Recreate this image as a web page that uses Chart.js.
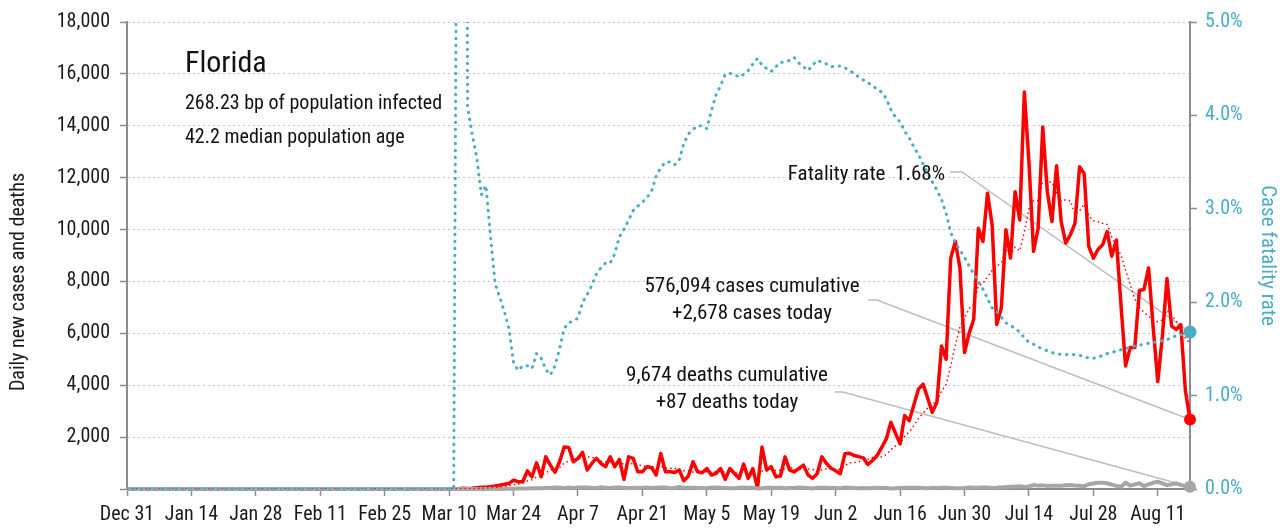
<!DOCTYPE html>
<html lang="en">
<head>
<meta charset="UTF-8">
<title>Florida: daily cases, deaths and case fatality rate</title>
<script src="https://cdn.jsdelivr.net/npm/chart.js"></script>
<style>
  body { margin: 0; background: #fff; }
  #wrap { position: relative; width: 1285px; height: 531px; }
</style>
</head>
<body>
<div id="wrap"><canvas id="chart"></canvas></div>
<script>
// x axis: one point per day starting Dec 31, labelled every two weeks
const tickLabels = ['Dec 31', 'Jan 14', 'Jan 28', 'Feb 11', 'Feb 25', 'Mar 10', 'Mar 24', 'Apr 7',
  'Apr 21', 'May 5', 'May 19', 'Jun 2', 'Jun 16', 'Jun 30', 'Jul 14', 'Jul 28', 'Aug 11'];
const caseTicks = [0, 2000, 4000, 6000, 8000, 10000, 12000, 14000, 16000, 18000];
const rateTicks = [0, 1, 2, 3, 4, 5];

// daily new cases
const cases = [
  0, 0, 0, 0, 0, 0, 0, 0, 0, 0, 0, 0, 0, 0, 0, 0, 0, 0, 0, 0,
  0, 0, 0, 0, 0, 0, 0, 0, 0, 0, 0, 0, 0, 0, 0, 0, 0, 0, 0, 0,
  0, 0, 0, 0, 0, 0, 0, 0, 0, 0, 0, 0, 0, 0, 0, 0, 0, 0, 0, 0, 0,
  0, 2, 1, 3, 2, 4, 6, 5, 8, 3,
  14, 10, 30, 20, 25, 50, 70, 65, 90, 115,
  150, 180, 215, 345, 280, 280, 700, 470, 1010, 470,
  1240, 920, 640, 1050, 1620, 1600, 1050, 1180, 1410, 730,
  985, 1180, 985, 860, 1240, 860, 1140, 370, 1240, 1180,
  665, 665, 860, 830, 540, 1370, 665, 665, 640, 730,
  320, 500, 1050, 665, 625, 790, 540, 600, 790, 370,
  790, 600, 410, 960, 410, 790, 30, 1620, 730, 860,
  470, 500, 1240, 730, 665, 790, 920, 540, 410, 600,
  1240, 985, 800, 700, 590, 1355, 1380, 1290, 1250, 1200,
  945, 1100, 1290, 1600, 1930, 2570, 2150, 1740, 2830, 2635,
  3250, 3850, 4040, 3500, 2955, 3340, 5510, 5000, 8900, 9540,
  8520, 5260, 6000, 6540, 10050, 9540, 11400, 10180, 6340, 6980,
  9990, 8900, 11460, 10370, 15300, 12600, 9160, 10050, 13950, 11460,
  10310, 12460, 10310, 9480, 9800, 10240, 12420, 12160, 9350, 8900,
  9230, 9410, 9920, 8970, 9600, 7100, 4745, 5450, 5450, 7650,
  7690, 8520, 6230, 4140, 5900, 8110, 6280, 6150, 6340, 3790, 2678
];

// 7-day average of new cases (thin dotted red)
const casesAvg = [
  0, 0, 0, 0, 0, 0, 0, 0, 0, 0, 0, 0, 0, 0, 0, 0, 0, 0, 0, 0,
  0, 0, 0, 0, 0, 0, 0, 0, 0, 0, 0, 0, 0, 0, 0, 0, 0, 0, 0, 0,
  0, 0, 0, 0, 0, 0, 0, 0, 0, 0, 0, 0, 0, 0, 0, 0, 0, 0, 0, 0, 0,
  0, 0, 0, 1, 1, 2, 3, 3, 4, 4,
  6, 7, 11, 13, 16, 22, 31, 39, 50, 62,
  81, 103, 126, 166, 196, 224, 307, 353, 471, 508,
  636, 727, 779, 829, 993, 1077, 1160, 1151, 1221, 1234,
  1225, 1162, 1074, 1047, 1056, 977, 1036, 948, 956, 984,
  956, 874, 874, 830, 854, 873, 799, 799, 796, 777,
  704, 699, 653, 653, 647, 669, 641, 681, 723, 626,
  644, 640, 586, 646, 619, 619, 570, 689, 707, 771,
  701, 714, 779, 879, 742, 751, 759, 769, 756, 665,
  738, 784, 785, 754, 761, 896, 1007, 1014, 1052, 1109,
  1144, 1217, 1208, 1239, 1331, 1519, 1655, 1769, 2016, 2208,
  2444, 2718, 2928, 3121, 3294, 3367, 3778, 4028, 4749, 5535,
  6252, 6581, 6961, 7109, 7830, 7921, 8187, 8424, 8579, 8719,
  9211, 9047, 9321, 9174, 9906, 10800, 11111, 11120, 11841, 11841,
  11833, 11427, 11100, 11146, 11110, 10580, 10717, 10981, 10537, 10336,
  10300, 10244, 10199, 9706, 9340, 9019, 8425, 7885, 7319, 6995,
  6812, 6658, 6534, 6447, 6511, 6891, 6696, 6476, 6164, 5816, 5607
];

// daily deaths
const deaths = [
  0, 0, 0, 0, 0, 0, 0, 0, 0, 0, 0, 0, 0, 0, 0, 0, 0, 0, 0, 0,
  0, 0, 0, 0, 0, 0, 0, 0, 0, 0, 0, 0, 0, 0, 0, 0, 0, 0, 0, 0,
  0, 0, 0, 0, 0, 0, 0, 0, 0, 0, 0, 0, 0, 0, 0, 0, 0, 0, 0, 0,
  0, 0, 0, 0, 0, 0,
  2, 0, 0, 0, 0,
  2, 0, 2, 3, 1, 3, 1, 4, 5, 5,
  4, 9, 11, 10, 15, 20, 18, 26, 30, 25,
  40, 37, 55, 45, 30, 62, 40, 55, 58, 60,
  40, 35, 72, 48, 40, 60, 55, 45, 30, 48,
  42, 50, 60, 40, 50, 58, 60, 30, 40, 80,
  45, 52, 45, 38, 42, 30, 55, 62, 50, 40,
  30, 32, 50, 55, 45, 45, 20, 30, 50, 48,
  40, 45, 30, 35, 40, 55, 46, 40, 20, 50,
  45, 45, 35, 40, 30, 55, 48, 38, 30, 40,
  25, 40, 45, 40, 35, 20, 30, 40, 45, 45,
  45, 50, 35, 30, 45, 42, 45, 45, 40, 30,
  25, 40, 60, 45, 48, 60, 60, 40, 50, 65,
  75, 90, 95, 110, 75, 100, 150, 130, 140, 120,
  130, 130, 125, 140, 150, 135, 125, 110, 180, 210,
  240, 245, 220, 170, 120, 90, 245, 130, 180, 220,
  115, 180, 240, 280, 220, 150, 180, 220, 160, 115, 87
];

// case fatality rate, percent (right axis)
const fatalityRate = [
  0, 0, 0, 0, 0, 0, 0, 0, 0, 0, 0, 0, 0, 0, 0, 0, 0, 0, 0, 0,
  0, 0, 0, 0, 0, 0, 0, 0, 0, 0, 0, 0, 0, 0, 0, 0, 0, 0, 0, 0,
  0, 0, 0, 0, 0, 0, 0, 0, 0, 0, 0, 0, 0, 0, 0, 0, 0, 0, 0, 0,
  0, 0, 0, 0, 0, 0, 0, 0, 0, 0, 0, 0,
  10, 25,
  4.1, 3.8, 3.55, 3.15, 3.25, 2.7, 2.2,
  2.05, 1.9, 1.72, 1.35, 1.27, 1.32, 1.32, 1.29, 1.45, 1.40,
  1.28, 1.22, 1.32, 1.50, 1.72, 1.78, 1.80, 1.83, 2.0, 2.08,
  2.18, 2.3, 2.37, 2.42, 2.42, 2.52, 2.70, 2.78, 2.88, 2.98,
  3.03, 3.07, 3.12, 3.19, 3.35, 3.44, 3.50, 3.50, 3.47, 3.52,
  3.70, 3.80, 3.85, 3.89, 3.89, 3.86, 4.05, 4.22, 4.32, 4.44,
  4.45, 4.44, 4.41, 4.44, 4.48, 4.55, 4.61, 4.54, 4.50, 4.47,
  4.52, 4.57, 4.57, 4.59, 4.62, 4.56, 4.52, 4.48, 4.54, 4.59,
  4.57, 4.55, 4.52, 4.53, 4.53, 4.51, 4.48, 4.45, 4.41, 4.38,
  4.35, 4.32, 4.28, 4.25, 4.18, 4.06, 3.98, 3.93, 3.83, 3.76,
  3.66, 3.58, 3.48, 3.38, 3.29, 3.20, 3.10, 2.95, 2.75, 2.63,
  2.56, 2.48, 2.39, 2.30, 2.22, 2.14, 2.04, 1.94, 1.90, 1.84,
  1.78, 1.75, 1.72, 1.68, 1.62, 1.57, 1.55, 1.52, 1.50, 1.48,
  1.46, 1.45, 1.44, 1.44, 1.44, 1.44, 1.43, 1.42, 1.40, 1.40,
  1.41, 1.43, 1.45, 1.46, 1.48, 1.49, 1.50, 1.52, 1.53, 1.54,
  1.55, 1.56, 1.57, 1.57, 1.59, 1.60, 1.62, 1.64, 1.65, 1.66, 1.68
];

const FONT = "'Roboto Condensed', 'DejaVu Sans Condensed', sans-serif";
const RED = '#ff0000';
const TEAL = '#4bacc6';
const GREY = '#a6a6a6';
const AXIS = '#8c8c8c';
const INK = '#1a1a1a';

const last = cases.length - 1;
const pts = arr => arr.map((v, i) => ({ x: i, y: v }));
const endDot = r => ctx => ctx.dataIndex === last ? r : 0;
// let the end markers spill past the right and bottom edges of the plot
const edgeClip = { left: 0, top: 0, right: 12, bottom: 12 };

Chart.defaults.font.family = FONT;
Chart.defaults.color = INK;

// dataset indexes (first one is drawn on top)
const RATE = 0, DEATHS = 2, CASES = 3;

// grey leader lines from the notes to the last value of each series, plus the notes
const notesPlugin = {
  id: 'notes',
  beforeDatasetsDraw(chart) {
    const ctx = chart.ctx;
    const end = i => chart.getDatasetMeta(i).data[last];
    const leader = (x0, x1, y, p) => {
      ctx.beginPath();
      ctx.moveTo(x0, y);
      ctx.lineTo(x1, y);
      ctx.lineTo(p.x, p.y);
      ctx.stroke();
    };
    ctx.save();
    ctx.strokeStyle = '#bdbdbd';
    ctx.lineWidth = 1.5;
    leader(950, 962, 172, end(RATE));
    leader(868, 877, 300, end(CASES));
    leader(835, 843, 392, end(DEATHS));
    ctx.restore();
  },
  afterDraw(chart) {
    const ctx = chart.ctx;
    ctx.save();
    ctx.fillStyle = '#111';
    ctx.textBaseline = 'alphabetic';
    ctx.textAlign = 'left';
    ctx.font = '30px ' + FONT;
    ctx.fillText('Florida', 185, 72);
    ctx.font = '20px ' + FONT;
    ctx.fillText('268.23 bp of population infected', 185, 109);
    ctx.fillText('42.2 median population age', 185, 143);
    ctx.font = '21px ' + FONT;
    ctx.textAlign = 'right';
    ctx.fillText('Fatality rate  1.68%', 945, 180);
    ctx.textAlign = 'center';
    ctx.fillText('576,094 cases cumulative', 752, 292);
    ctx.fillText('+2,678 cases today', 752, 319);
    ctx.fillText('9,674 deaths cumulative', 727, 381);
    ctx.fillText('+87 deaths today', 727, 408);

    // left axis title, rotated
    ctx.translate(19, 282);
    ctx.rotate(-Math.PI / 2);
    ctx.textBaseline = 'middle';
    ctx.font = '20px ' + FONT;
    ctx.fillStyle = INK;
    ctx.fillText('Daily new cases and deaths', 0, 0);
    ctx.restore();
  }
};

new Chart(document.getElementById('chart'), {
  type: 'line',
  data: {
    datasets: [
      {
        label: 'Case fatality rate',
        data: pts(fatalityRate),
        yAxisID: 'y1',
        borderColor: TEAL,
        backgroundColor: TEAL,
        borderWidth: 3,
        borderDash: [0.5, 6.5],
        borderCapStyle: 'round',
        pointRadius: endDot(6.5),
        pointBorderWidth: 0,
        clip: edgeClip
      },
      {
        label: 'New cases, 7-day average',
        data: pts(casesAvg),
        yAxisID: 'y',
        borderColor: RED,
        borderWidth: 1.5,
        borderDash: [1.5, 3],
        pointRadius: 0
      },
      {
        label: 'Daily deaths',
        data: pts(deaths),
        yAxisID: 'y',
        borderColor: GREY,
        backgroundColor: GREY,
        borderWidth: 4,
        pointRadius: endDot(6),
        pointBorderWidth: 0,
        clip: edgeClip
      },
      {
        label: 'Daily new cases',
        data: pts(cases),
        yAxisID: 'y',
        borderColor: RED,
        backgroundColor: RED,
        borderWidth: 3.5,
        pointRadius: endDot(6),
        pointBorderWidth: 0,
        clip: edgeClip
      }
    ]
  },
  options: {
    responsive: true,
    maintainAspectRatio: false,
    animation: false,
    events: [],
    layout: { padding: { top: 8, left: 0, right: 0, bottom: 0 } },
    elements: { line: { tension: 0, borderJoinStyle: 'round' } },
    plugins: { legend: { display: false }, tooltip: { enabled: false } },
    scales: {
      x: {
        type: 'linear',
        min: 0,
        max: last,
        afterBuildTicks: s => { s.ticks = tickLabels.map((_, i) => ({ value: i * 14 })); },
        afterFit: s => { s.height = 42; },
        grid: { drawOnChartArea: false, tickLength: 7, tickColor: AXIS, tickWidth: 1.5 },
        border: { color: AXIS, width: 2 },
        ticks: {
          autoSkip: false, maxRotation: 0, padding: 7,
          font: { size: 20 }, color: INK,
          callback: v => tickLabels[v / 14]
        }
      },
      y: {
        position: 'left',
        min: 0,
        max: 18000,
        afterBuildTicks: s => { s.ticks = caseTicks.map(v => ({ value: v })); },
        afterFit: s => { s.width = 127; },
        grid: {
          color: c => (c.tick && c.tick.value === 0) ? 'rgba(0,0,0,0)' : '#c4c4c4',
          lineWidth: 1, tickLength: 7, tickColor: AXIS, tickWidth: 1.5
        },
        border: { color: AXIS, width: 2, dash: [2, 3] },
        ticks: {
          padding: 10, font: { size: 20 }, color: INK,
          callback: v => v === 0 ? '' : v.toLocaleString('en-US')
        }
      },
      y1: {
        position: 'right',
        min: 0,
        max: 5,
        afterBuildTicks: s => { s.ticks = rateTicks.map(v => ({ value: v })); },
        afterFit: s => { s.width = 95; },
        grid: { drawOnChartArea: false, tickLength: 7, tickColor: AXIS, tickWidth: 1.5 },
        border: { color: AXIS, width: 2 },
        ticks: {
          padding: 8, font: { size: 20 }, color: TEAL,
          callback: v => v.toFixed(1) + '%'
        },
        title: { display: true, text: 'Case fatality rate', font: { size: 21 }, color: TEAL, padding: { top: 5, bottom: 0 } }
      }
    }
  },
  plugins: [notesPlugin]
});
</script>
</body>
</html>
